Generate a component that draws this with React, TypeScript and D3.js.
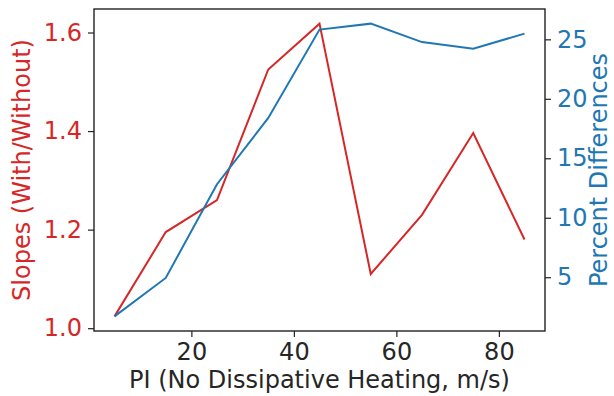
import React, { useEffect, useRef } from 'react';
import * as d3 from 'd3';

// PI values (m/s) along the bottom axis
const piValues = [5, 15, 25, 35, 45, 55, 65, 75, 85];
// slope ratio, with / without dissipative heating (left axis)
const slopeRatios = [1.024, 1.195, 1.26, 1.525, 1.618, 1.11, 1.23, 1.396, 1.18];
// percent differences (right axis)
const percentDiffs = [1.71, 4.94, 12.82, 18.39, 25.82, 26.32, 24.77, 24.21, 25.48];

const xTicks = [20, 40, 60, 80];
const leftTicks = [1.0, 1.2, 1.4, 1.6];
const rightTicks = [5, 10, 15, 20, 25];

const RED = '#d62728';
const BLUE = '#1f77b4';
const FONT = '"DejaVu Sans", sans-serif';
const FS = '24px';

export default function App() {
  const ref = useRef<SVGSVGElement | null>(null);

  useEffect(() => {
    const W = 614, H = 396;
    const margin = { top: 9, right: 69, bottom: 65, left: 94 };
    const width = W - margin.left - margin.right;
    const height = H - margin.top - margin.bottom;

    const svg = d3.select(ref.current);
    svg.selectAll('*').remove();

    const g = svg.append('g')
      .attr('transform', 'translate(' + margin.left + ',' + margin.top + ')');

    // matplotlib style 5% margins on every axis
    const pad = (lo: number, hi: number) => [lo - (hi - lo) * 0.05, hi + (hi - lo) * 0.05];

    const x = d3.scaleLinear()
      .domain(pad(d3.min(piValues)!, d3.max(piValues)!))
      .range([0, width]);
    const yLeft = d3.scaleLinear()
      .domain(pad(d3.min(slopeRatios)!, d3.max(slopeRatios)!))
      .range([height, 0]);
    const yRight = d3.scaleLinear()
      .domain(pad(d3.min(percentDiffs)!, d3.max(percentDiffs)!))
      .range([height, 0]);

    const styleAxis = (sel: any, color: string) => {
      sel.select('.domain').remove();
      sel.selectAll('.tick line').attr('stroke', '#222').attr('stroke-width', 1.2);
      sel.selectAll('.tick text')
        .attr('fill', color)
        .style('font-family', FONT)
        .style('font-size', FS);
    };

    // bottom axis
    const xAxis = g.append('g')
      .attr('transform', 'translate(0,' + height + ')')
      .call(d3.axisBottom(x).tickValues(xTicks).tickFormat(d3.format('d')).tickSize(6).tickPadding(6));
    styleAxis(xAxis, '#262626');

    // left axis
    const lAxis = g.append('g')
      .call(d3.axisLeft(yLeft).tickValues(leftTicks).tickFormat(d3.format('.1f')).tickSize(6).tickPadding(6));
    styleAxis(lAxis, RED);

    // right axis
    const rAxis = g.append('g')
      .attr('transform', 'translate(' + width + ',0)')
      .call(d3.axisRight(yRight).tickValues(rightTicks).tickFormat(d3.format('d')).tickSize(6).tickPadding(6));
    styleAxis(rAxis, BLUE);

    // lines
    const idx = d3.range(piValues.length);
    const redLine = d3.line<number>()
      .x(i => x(piValues[i]))
      .y(i => yLeft(slopeRatios[i]));
    const blueLine = d3.line<number>()
      .x(i => x(piValues[i]))
      .y(i => yRight(percentDiffs[i]));

    g.append('path')
      .attr('d', redLine(idx))
      .attr('fill', 'none')
      .attr('stroke', RED)
      .attr('stroke-width', 2);

    g.append('path')
      .attr('d', blueLine(idx))
      .attr('fill', 'none')
      .attr('stroke', BLUE)
      .attr('stroke-width', 2);

    // frame
    g.append('rect')
      .attr('width', width)
      .attr('height', height)
      .attr('fill', 'none')
      .attr('stroke', '#222')
      .attr('stroke-width', 1.4);

    // axis labels
    svg.append('text')
      .attr('x', margin.left + width / 2)
      .attr('y', 388)
      .attr('text-anchor', 'middle')
      .attr('fill', '#262626')
      .style('font-family', FONT)
      .style('font-size', FS)
      .text('PI (No Dissipative Heating, m/s)');

    svg.append('text')
      .attr('transform', 'translate(30,' + (margin.top + height / 2) + ') rotate(-90)')
      .attr('text-anchor', 'middle')
      .attr('fill', RED)
      .style('font-family', FONT)
      .style('font-size', FS)
      .text('Slopes (With/Without)');

    svg.append('text')
      .attr('transform', 'translate(607,' + (margin.top + height / 2) + ') rotate(-90)')
      .attr('text-anchor', 'middle')
      .attr('fill', BLUE)
      .style('font-family', FONT)
      .style('font-size', FS)
      .text('Percent Differences');
  }, []);

  return (
    <svg ref={ref} width={614} height={396}
      style={{ position: 'absolute', left: 0, top: 0, background: '#fff' }} />
  );
}
